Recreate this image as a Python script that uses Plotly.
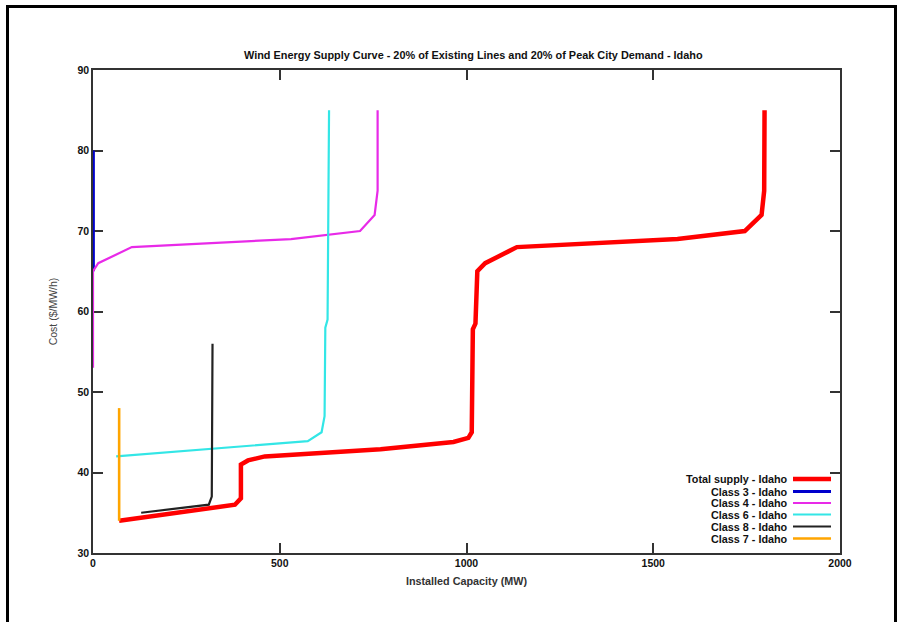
import plotly.graph_objects as go

# ---- data ----
total_x = [70, 380, 396, 396, 415, 460, 770, 965, 1005, 1014, 1017, 1024, 1029, 1050, 1135, 1565, 1745, 1790, 1797, 1798]
total_y = [34, 36, 36.8, 41, 41.5, 42, 42.9, 43.8, 44.3, 45, 57.8, 58.5, 65, 66, 68, 69, 70, 72, 75, 85]

c3_x = [1, 1]
c3_y = [65, 80]

c4_x = [0, 0, 14, 104, 530, 715, 754, 762, 762]
c4_y = [53, 65, 66, 68, 69, 70, 72, 75, 85]

c6_x = [62, 575, 612, 620, 622, 628, 632]
c6_y = [42, 43.9, 45, 47, 58, 59, 85]

c8_x = [129, 310, 318, 320]
c8_y = [35, 36, 37, 56]

c7_x = [70, 70]
c7_y = [34, 48]

names = ["Total supply - Idaho", "Class 3 - Idaho", "Class 4 - Idaho",
         "Class 6 - Idaho", "Class 8 - Idaho", "Class 7 - Idaho"]
colors = ["#ff0000", "#0000cc", "#e82ae8", "#33e6e6", "#222222", "#ffa500"]
widths = [4.5, 3, 2.2, 2.2, 2.2, 2.6]

x_ticks = [0, 500, 1000, 1500, 2000]
y_ticks = [30, 40, 50, 60, 70, 80, 90]

series = [(total_x, total_y), (c3_x, c3_y), (c4_x, c4_y),
          (c6_x, c6_y), (c8_x, c8_y), (c7_x, c7_y)]

fig = go.Figure()
for i in range(6):
    xs, ys = series[i]
    fig.add_trace(go.Scatter(x=xs, y=ys, mode="lines", name=names[i],
                             line=dict(color=colors[i], width=widths[i]),
                             showlegend=False))

FONT = "Liberation Sans"
W, H = 902, 622
L, T = 93, 70
R = W - 840
B = H - 553
pw, ph = W - L - R, H - T - B

def px(xp):  # page pixel -> paper
    return (xp - L) / pw

def py(yp):
    return (H - B - yp) / ph

shapes = []
annotations = []

# custom legend (text right-aligned, sample line on the right)
row_y = [479, 491.5, 503, 514.5, 526.5, 538.5]
for i in range(6):
    annotations.append(dict(x=px(790), y=py(row_y[i]), xref="paper", yref="paper",
                            text="<b>" + names[i] + "</b>", showarrow=False,
                            xanchor="right", yanchor="middle",
                            font=dict(family=FONT, size=10.8, color="#111111")))
    shapes.append(dict(type="line", xref="paper", yref="paper",
                       x0=px(793), x1=px(831), y0=py(row_y[i]), y1=py(row_y[i]),
                       line=dict(color=colors[i], width=widths[i])))

# outer frame (left, top, right edges)
frame = dict(color="#000000", width=3)
shapes.append(dict(type="line", xref="paper", yref="paper",
                   x0=px(7.5), x1=px(7.5), y0=py(640), y1=py(6.5), line=frame, layer="above"))
shapes.append(dict(type="line", xref="paper", yref="paper",
                   x0=px(6), x1=px(897), y0=py(6.5), y1=py(6.5), line=frame, layer="above"))
shapes.append(dict(type="line", xref="paper", yref="paper",
                   x0=px(895.5), x1=px(895.5), y0=py(640), y1=py(6.5), line=frame, layer="above"))

# title
annotations.append(dict(x=px(473), y=py(55), xref="paper", yref="paper",
                        text="<b>Wind Energy Supply Curve - 20% of Existing Lines and 20% of Peak City Demand - Idaho</b>",
                        showarrow=False, xanchor="center", yanchor="middle",
                        font=dict(family=FONT, size=10.9, color="#111111")))

fig.update_layout(
    width=W, height=H,
    margin=dict(l=L, r=R, t=T, b=B),
    paper_bgcolor="white", plot_bgcolor="white",
    font=dict(family=FONT, size=10.5, color="#111111"),
    shapes=shapes, annotations=annotations,
    showlegend=False,
)
fig.update_xaxes(
    range=[0, 2000], tickvals=x_ticks, ticktext=["<b>%d</b>" % v for v in x_ticks],
    showgrid=False, zeroline=False, layer="below traces",
    showline=True, linecolor="#333333", linewidth=1.5, mirror="ticks",
    ticks="inside", ticklen=10, tickcolor="#333333", tickwidth=1.5,
    tickfont=dict(family=FONT, size=10.5, color="#111111"),
    title=dict(text="<b>Installed Capacity (MW)</b>", standoff=9,
               font=dict(family=FONT, size=10.8, color="#333333")),
)
fig.update_yaxes(
    range=[30, 90], tickvals=y_ticks, ticktext=["<b>%d</b>" % v for v in y_ticks],
    showgrid=False, zeroline=False, layer="below traces",
    showline=True, linecolor="#333333", linewidth=1.5, mirror="ticks",
    ticks="inside", ticklen=10, tickcolor="#333333", tickwidth=1.5,
    tickfont=dict(family=FONT, size=10.5, color="#111111"),
    title=dict(text="Cost ($/MW/h)", standoff=18,
               font=dict(family=FONT, size=10.5, color="#444444")),
)

fig.write_html("out.html",
               config={"displayModeBar": False},
               post_script="document.body.style.margin='0px';document.body.style.overflow='hidden';")
